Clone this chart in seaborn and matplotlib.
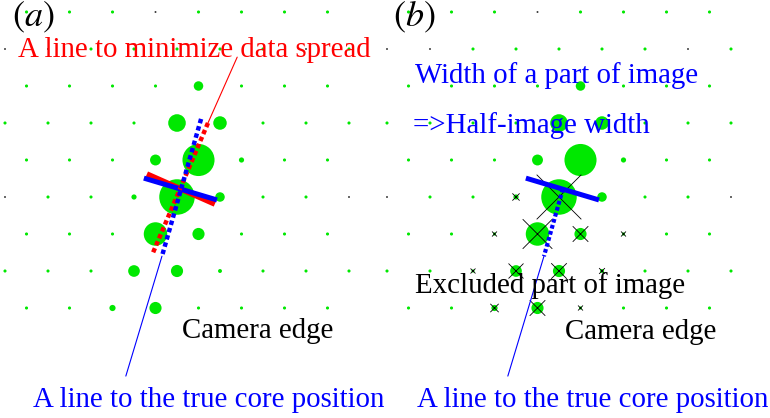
import numpy as np
import pandas as pd
import matplotlib
matplotlib.use('Agg')
import matplotlib.pyplot as plt
import seaborn as sns

# camera pixel signals (p.e.), one list per pixel row; even rows are shifted by half a pixel
signal_rows = [
    [1, 1, 1, 0, 1, 1, 1, 1],
    [0, 0, 1, 1, 1, 1, 1, 0, 1],
    [1, 1, 1, 1, 15, 1, 1, 1],
    [1, 1, 1, 1, 53, 31, 1, 1, 1],
    [1, 1, 1, 20, 178, 4, 1, 1],
    [0, 1, 1, 4, 218, 15, 1, 1, 0],
    [1, 1, 1, 95, 25, 1, 1, 1],
    [1, 1, 1, 23, 25, 2, 1, 1, 1],
    [1, 1, 6, 25, 1, 1, 1, 1],
]
# pixels dropped in panel (b), index within each row
excluded_rows = [[], [], [], [], [], [3, 4], [2, 3, 4, 5], [2, 3, 4, 5], [2, 3, 4]]

# axis lines in camera units (pixel pitch, pixel row)
core_dir_u, core_dir_row = [4.56, 3.65], [2.89, 6.60]
fit_dir_u, fit_dir_row = [4.72, 3.44], [3.00, 6.51]
core_width_u, core_width_row = [3.23, 4.93], [4.49, 5.08]
fit_width_u, fit_width_row = [3.30, 4.88], [4.38, 5.19]
core_tail_u, core_tail_row = [3.65, 2.81], [6.60, 9.84]
fit_label_u, fit_label_row = [4.72, 5.40], [3.00, 1.22]
half_dir_u, half_dir_row = [4.09, 3.65], [4.78, 6.60]

# build pixel table
recs = []
for r, row in enumerate(signal_rows):
    shift = 0.5 if r % 2 == 0 else 0.0
    for i, s in enumerate(row):
        recs.append({'u': i + shift, 'row': r, 'signal': s,
                     'lit': s > 0, 'excluded': i in excluded_rows[r]})
pix = pd.DataFrame(recs)

sns.set_style('white')
plt.rcParams['font.family'] = ['Liberation Serif', 'DejaVu Serif']
plt.rcParams['mathtext.fontset'] = 'stix'

W, H = 770, 418
fig = plt.figure(figsize=(W / 100, H / 100), dpi=100)
ax_a = fig.add_axes([0, 0, 0.5, 1])
ax_b = fig.add_axes([0.5, 0, 0.5, 1])

GREEN = '#00e800'
pal = {True: GREEN, False: '#3a3a3a'}

for ax, x0 in [(ax_a, 5), (ax_b, 387)]:
    sns.scatterplot(data=pix, x='u', y='row', hue='lit', palette=pal,
                    size='signal', sizes=(2, 2988), size_norm=(0, 1000),
                    linewidth=0, legend=False, ax=ax, zorder=2)
    ax.set_xlim((ax.get_position().x0 * W - x0) / 43,
                (ax.get_position().x1 * W - x0) / 43)
    ax.set_ylim((H - 12) / 37, -12 / 37)
    ax.set_axis_off()

# panel (a): fitted axis (red) and true-core axis (blue)
ax_a.plot(fit_width_u, fit_width_row, color='red', lw=4.0, solid_capstyle='butt', zorder=3)
ax_a.plot(core_width_u, core_width_row, color='blue', lw=3.6, solid_capstyle='butt', zorder=4)
ax_a.plot(fit_dir_u, fit_dir_row, color='red', lw=3.2, dashes=(1.0, 0.7), zorder=5)
ax_a.plot(core_dir_u, core_dir_row, color='blue', lw=3.2, dashes=(1.0, 0.7), zorder=6)
ax_a.plot(fit_label_u, fit_label_row, color='red', lw=0.8, zorder=5)
ax_a.plot(core_tail_u, core_tail_row, color='blue', lw=0.8, zorder=5)

# panel (b): excluded pixels crossed out
sns.scatterplot(data=pix[pix['excluded']], x='u', y='row', color='black',
                marker='x', size='signal', sizes=(8, 4708), size_norm=(0, 1000),
                linewidth=0.6, legend=False, ax=ax_b, zorder=3)
ax_b.plot(core_width_u, core_width_row, color='blue', lw=3.6, solid_capstyle='butt', zorder=4)
ax_b.plot(half_dir_u, half_dir_row, color='blue', lw=3.0, dashes=(0.9, 0.6), zorder=5)
ax_b.plot(core_tail_u, core_tail_row, color='blue', lw=0.8, zorder=5)


def label(x, y, s, color='black', size=20.8):
    fig.text(x / W, 1 - y / H, s, color=color, fontsize=size,
             ha='left', va='baseline', zorder=10)


label(12, 26.5, r'$(a)$', size=26)
label(18, 57, 'A line to minimize data spread', 'red')
label(182, 338, 'Camera edge')
label(33, 407, 'A line to the true core position', 'blue')

label(393, 26.5, r'$(b)$', size=26)
label(415, 83, 'Width of a part of image', 'blue')
label(413, 133, '=>Half-image width', 'blue')
label(415, 293, 'Excluded part of image')
label(565, 339, 'Camera edge')
label(417, 407, 'A line to the true core position', 'blue')

fig.savefig('out.png', dpi=100)
